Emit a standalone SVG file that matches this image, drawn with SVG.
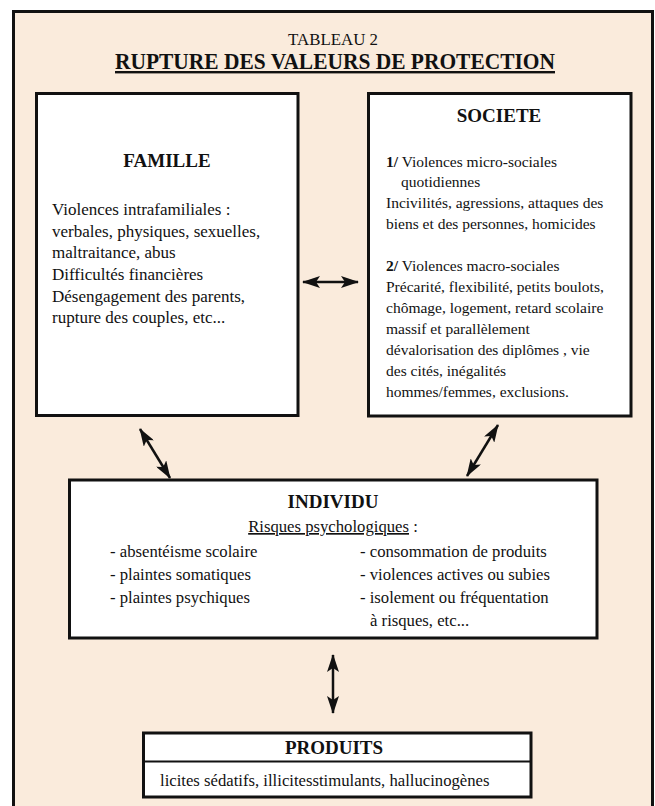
<svg xmlns="http://www.w3.org/2000/svg" width="655" height="806" viewBox="0 0 655 806">
<defs>
<style>
text{font-family:"Liberation Serif","Times New Roman",serif;fill:#111;}
.t{font-size:17px;}
.s{font-size:15.5px;}
.i{font-size:16.7px;}
.h{font-size:19px;font-weight:bold;}
.box{fill:#fff;stroke:#111;stroke-width:3;}
.conn{stroke:#111;stroke-width:2.5;fill:none;marker-start:url(#ah);marker-end:url(#ah);}
</style>
<marker id="ah" viewBox="0 0 18 12" refX="17" refY="6" markerWidth="18" markerHeight="12" markerUnits="userSpaceOnUse" orient="auto-start-reverse">
<path d="M0,0 L18,6 L0,12 L4,6 z" fill="#111"/>
</marker>
</defs>
<rect x="0" y="0" width="655" height="806" fill="#fff"/>
<rect id="frame" x="13.5" y="11.5" width="639" height="810" fill="#FAEBDC" stroke="#111" stroke-width="3"/>
<g id="title">
<text x="333" y="45" text-anchor="middle" font-size="17" textLength="90" lengthAdjust="spacingAndGlyphs">TABLEAU 2</text>
<text x="335" y="69" text-anchor="middle" font-size="24" font-weight="bold" text-decoration="underline" textLength="440" lengthAdjust="spacingAndGlyphs">RUPTURE DES VALEURS DE PROTECTION</text>
</g>
<g id="famille">
<rect class="box" x="36.5" y="93.5" width="261.5" height="322"/>
<text class="h" x="167" y="167" text-anchor="middle">FAMILLE</text>
<text class="t" x="52" y="215">Violences intrafamiliales :</text>
<text class="t" x="52" y="237">verbales, physiques, sexuelles,</text>
<text class="t" x="52" y="258">maltraitance, abus</text>
<text class="t" x="52" y="280">Difficultés financières</text>
<text class="t" x="52" y="302">Désengagement des parents,</text>
<text class="t" x="52" y="323">rupture des couples, etc...</text>
</g>
<g id="societe">
<rect class="box" x="368.5" y="93.5" width="262.5" height="322.5"/>
<text class="h" x="499" y="122" text-anchor="middle">SOCIETE</text>
<text class="s" x="386" y="167"><tspan font-weight="bold">1/</tspan> Violences micro-sociales</text>
<text class="s" x="401" y="187">quotidiennes</text>
<text class="s" x="386" y="208">Incivilités, agressions, attaques des</text>
<text class="s" x="386" y="229">biens et des personnes, homicides</text>
<text class="s" x="386" y="271"><tspan font-weight="bold">2/</tspan> Violences macro-sociales</text>
<text class="s" x="386" y="292">Précarité, flexibilité, petits boulots,</text>
<text class="s" x="386" y="313">chômage, logement, retard scolaire</text>
<text class="s" x="386" y="334">massif et parallèlement</text>
<text class="s" x="386" y="355">dévalorisation des diplômes , vie</text>
<text class="s" x="386" y="376">des cités, inégalités</text>
<text class="s" x="386" y="397">hommes/femmes, exclusions.</text>
</g>
<g id="individu">
<rect class="box" x="69.5" y="480" width="527.5" height="158"/>
<text class="h" x="333" y="508" text-anchor="middle">INDIVIDU</text>
<text class="i" x="333" y="532" text-anchor="middle"><tspan text-decoration="underline">Risques psychologiques</tspan> :</text>
<text class="i" x="110" y="557">- absentéisme scolaire</text>
<text class="i" x="110" y="580">- plaintes somatiques</text>
<text class="i" x="110" y="603">- plaintes psychiques</text>
<text class="i" x="360" y="557">- consommation de produits</text>
<text class="i" x="360" y="580">- violences actives ou subies</text>
<text class="i" x="360" y="603">- isolement ou fréquentation</text>
<text class="i" x="370" y="626">à risques, etc...</text>
</g>
<g id="produits">
<rect class="box" x="143.5" y="733" width="387.5" height="64"/>
<line x1="143.5" y1="761.5" x2="531" y2="761.5" stroke="#111" stroke-width="2"/>
<text class="h" x="334" y="754" text-anchor="middle">PRODUITS</text>
<text class="i" x="160" y="786">licites sédatifs, illicitesstimulants, hallucinogènes</text>
</g>
<g id="connectors">
<line class="conn" x1="303" y1="282" x2="358" y2="282"/>
<line class="conn" x1="140" y1="429" x2="170" y2="478"/>
<line class="conn" x1="498" y1="425" x2="467" y2="476"/>
<line class="conn" x1="333" y1="655" x2="333" y2="713"/>
</g>
</svg>
